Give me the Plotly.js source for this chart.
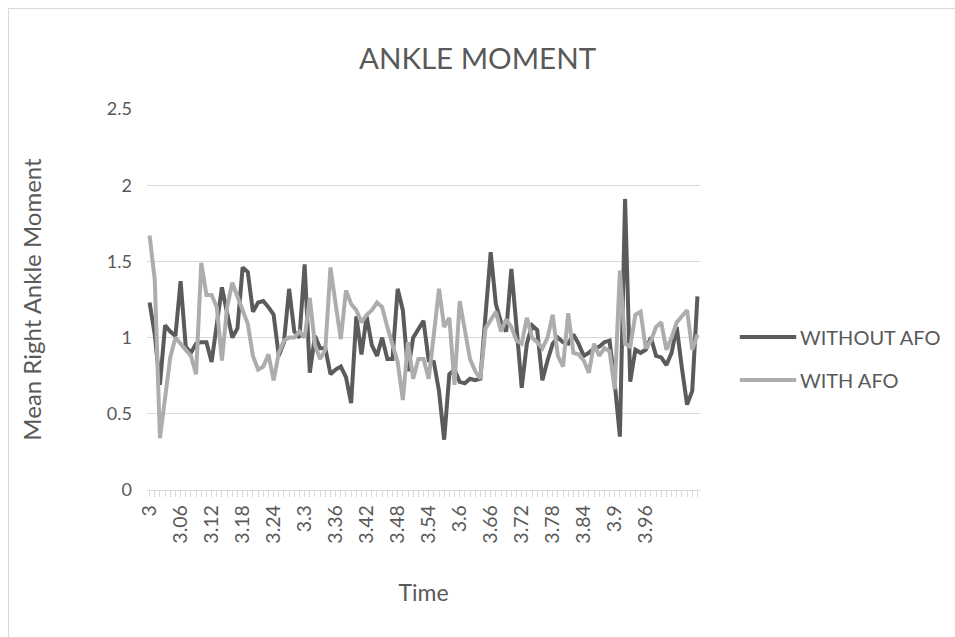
<!DOCTYPE html>
<html>
<head>
<meta charset="utf-8">
<script src="https://cdn.plot.ly/plotly-3.0.1.min.js"></script>
<style>
  html, body { margin: 0; padding: 0; background: #fff; }
  #chart { width: 955px; height: 637px; }
  #frame { position: absolute; left: 8px; top: 8px; width: 960px; height: 640px; border: 1px solid #d9d9d9; pointer-events: none; }
</style>
</head>
<body>
<div id="chart"></div>
<div id="frame"></div>
<script>
// Time categories (x axis)
const time = [3, 3.01, 3.02, 3.03, 3.04, 3.05, 3.06, 3.07, 3.08, 3.09,
  3.1, 3.11, 3.12, 3.13, 3.14, 3.15, 3.16, 3.17, 3.18, 3.19,
  3.2, 3.21, 3.22, 3.23, 3.24, 3.25, 3.26, 3.27, 3.28, 3.29,
  3.3, 3.31, 3.32, 3.33, 3.34, 3.35, 3.36, 3.37, 3.38, 3.39,
  3.4, 3.41, 3.42, 3.43, 3.44, 3.45, 3.46, 3.47, 3.48, 3.49,
  3.5, 3.51, 3.52, 3.53, 3.54, 3.55, 3.56, 3.57, 3.58, 3.59,
  3.6, 3.61, 3.62, 3.63, 3.64, 3.65, 3.66, 3.67, 3.68, 3.69,
  3.7, 3.71, 3.72, 3.73, 3.74, 3.75, 3.76, 3.77, 3.78, 3.79,
  3.8, 3.81, 3.82, 3.83, 3.84, 3.85, 3.86, 3.87, 3.88, 3.89,
  3.9, 3.91, 3.92, 3.93, 3.94, 3.95, 3.96, 3.97, 3.98, 3.99,
  4, 4.01, 4.02, 4.03, 4.04, 4.05, 4.06];

// Labelled ticks on the time axis
const timeTickLabels = ["3", "3.06", "3.12", "3.18", "3.24", "3.3", "3.36", "3.42", "3.48",
  "3.54", "3.6", "3.66", "3.72", "3.78", "3.84", "3.9", "3.96"];

// Series names
const seriesNames = ["WITHOUT AFO", "WITH AFO"];

// Mean right ankle moment WITHOUT AFO
const withoutAFO = [1.23, 1.02, 0.69, 1.08, 1.04, 1.01, 1.37, 0.94, 0.90, 0.96,
  0.97, 0.97, 0.84, 1.10, 1.33, 1.16, 1.00, 1.06, 1.46, 1.43,
  1.17, 1.23, 1.24, 1.20, 1.15, 0.88, 0.97, 1.32, 1.04, 1.00,
  1.48, 0.77, 1.01, 0.93, 0.93, 0.76, 0.79, 0.81, 0.74, 0.57,
  1.14, 0.89, 1.14, 0.95, 0.88, 1.00, 0.86, 0.86, 1.32, 1.18,
  0.78, 1.00, 1.05, 1.11, 0.85, 0.84, 0.65, 0.33, 0.76, 0.79,
  0.71, 0.70, 0.73, 0.72, 0.73, 1.14, 1.56, 1.22, 1.10, 1.04,
  1.45, 1.07, 0.67, 0.96, 1.08, 1.05, 0.72, 0.85, 0.96, 1.00,
  0.97, 0.96, 1.02, 0.96, 0.88, 0.90, 0.93, 0.94, 0.97, 0.98,
  0.70, 0.35, 1.91, 0.71, 0.92, 0.90, 0.92, 1.00, 0.88, 0.87,
  0.82, 0.90, 1.07, 0.80, 0.56, 0.65, 1.27];

// Mean right ankle moment WITH AFO
const withAFO = [1.67, 1.38, 0.34, 0.62, 0.87, 1.00, 0.96, 0.92, 0.88, 0.76,
  1.49, 1.28, 1.28, 1.20, 0.85, 1.20, 1.36, 1.27, 1.18, 1.09,
  0.88, 0.79, 0.81, 0.89, 0.72, 0.90, 0.98, 1.00, 1.00, 1.04,
  1.00, 1.26, 0.95, 0.86, 0.92, 1.46, 1.22, 0.99, 1.31, 1.22,
  1.18, 1.10, 1.15, 1.18, 1.23, 1.20, 1.07, 0.95, 0.84, 0.59,
  0.97, 0.73, 0.86, 0.86, 0.73, 1.02, 1.32, 1.07, 1.13, 0.69,
  1.24, 1.05, 0.86, 0.78, 0.73, 1.06, 1.12, 1.17, 1.04, 1.12,
  1.07, 0.98, 0.96, 1.13, 1.00, 0.97, 0.93, 1.00, 1.15, 0.88,
  0.81, 1.16, 0.90, 0.89, 0.85, 0.77, 0.96, 0.88, 0.93, 0.91,
  0.66, 1.44, 0.96, 0.94, 1.15, 1.17, 0.93, 0.98, 1.07, 1.10,
  0.92, 1.00, 1.10, 1.14, 1.18, 0.92, 1.02];

const yTickVals = [0, 0.5, 1, 1.5, 2, 2.5];
const yTickText = ["0", "0.5", "1", "1.5", "2", "2.5"];

const darkColor = "#5b5b5b";
const lightColor = "#adadad";
const textColor = "#595959";
const gridColor = "#d9d9d9";
const fontFamily = "Lato, 'Open Sans', 'DejaVu Sans', sans-serif";

const xCats = time.map(String);
const xTickText = xCats.map(c => timeTickLabels.includes(c) ? c : "");

const traces = [
  { x: xCats, y: withoutAFO, name: seriesNames[0], type: "scatter", mode: "lines",
    line: { color: darkColor, width: 4 }, showlegend: false },
  { x: xCats, y: withAFO, name: seriesNames[1], type: "scatter", mode: "lines",
    line: { color: lightColor, width: 4 }, showlegend: false }
];

const legendY = [0.4016, 0.2887];
const legendColors = [darkColor, lightColor];

const layout = {
  width: 955, height: 637,
  margin: { l: 147, r: 255, t: 109, b: 147 },
  paper_bgcolor: "#ffffff", plot_bgcolor: "#ffffff",
  font: { family: fontFamily, color: textColor, size: 18 },
  title: { text: "ANKLE MOMENT", x: 0.5, xref: "container", xanchor: "center",
    y: 1 - 59 / 637, yref: "container", yanchor: "middle",
    font: { family: fontFamily, size: 29.5, color: textColor } },
  xaxis: {
    type: "category",
    range: [-0.5, time.length - 0.5],
    tickmode: "array", tickvals: xCats, ticktext: xTickText,
    tickangle: -90, ticks: "outside", ticklen: 6, tickcolor: gridColor, tickwidth: 1,
    showline: true, linecolor: gridColor, linewidth: 1.3,
    showgrid: false, zeroline: false,
    tickfont: { size: 19.5, color: textColor },
    title: { text: "Time", standoff: 42, font: { size: 23, color: textColor } },
    automargin: false
  },
  yaxis: {
    range: [0, 2.5],
    tickmode: "array", tickvals: yTickVals, ticktext: yTickText,
    showgrid: true, gridcolor: gridColor, gridwidth: 1.3,
    showline: false, zeroline: false, ticks: "",
    ticklabelstandoff: 14,
    tickfont: { size: 18, color: textColor },
    title: { text: "Mean Right Ankle Moment", standoff: 58, font: { size: 24, color: textColor } },
    automargin: false
  },
  shapes: legendY.map((yy, k) => ({
    type: "line", xref: "paper", yref: "paper",
    x0: 1.072, x1: 1.174, y0: yy, y1: yy,
    line: { color: legendColors[k], width: 4 }
  })),
  annotations: legendY.map((yy, k) => ({
    xref: "paper", yref: "paper", x: 1.177, y: yy, xanchor: "left", yanchor: "middle",
    text: seriesNames[k], showarrow: false,
    font: { family: fontFamily, size: 20, color: textColor }
  }))
};

Plotly.newPlot("chart", traces, layout, { displayModeBar: false, staticPlot: true });
</script>
</body>
</html>
